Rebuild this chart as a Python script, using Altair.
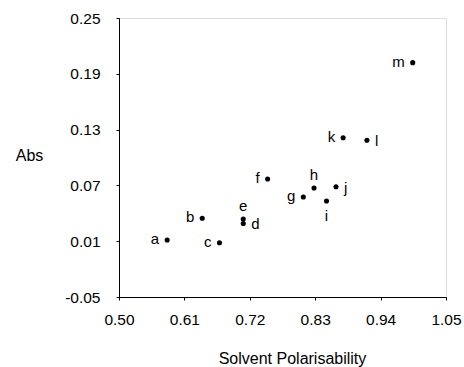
import altair as alt
import pandas as pd

labels = ["a", "b", "c", "d", "e", "f", "g", "h", "i", "j", "k", "l", "m"]
polarisability = [0.581, 0.640, 0.669, 0.709, 0.709, 0.750, 0.810, 0.828, 0.849, 0.865, 0.877, 0.917, 0.994]
absorbance = [0.0113, 0.0346, 0.0084, 0.0291, 0.0339, 0.0769, 0.0575, 0.0672, 0.0532, 0.0686, 0.1213, 0.1185, 0.2020]

x_ticks = [0.50, 0.61, 0.72, 0.83, 0.94, 1.05]
y_ticks = [-0.05, 0.01, 0.07, 0.13, 0.19, 0.25]

left_labels = ["a", "b", "c", "f", "g", "k", "m"]
right_labels = ["d", "j", "l"]
above_labels = ["e", "h"]
below_labels = ["i"]

df = pd.DataFrame({"label": labels, "x": polarisability, "y": absorbance})

FONT = "Liberation Sans"
FS = 15.5
LABEL_EXPR = "datum.value < 0 ? '-' + format(-datum.value, '.2f') : format(datum.value, '.2f')"

xenc = alt.X("x:Q", scale=alt.Scale(domain=[0.50, 1.05], nice=False, zero=False),
             axis=alt.Axis(values=x_ticks, labelExpr=LABEL_EXPR, title="Solvent Polarisability",
                           grid=False, tickSize=3, labelPadding=12, labelFontSize=FS, labelFlush=False,
                           titleFontSize=16, titleFontWeight="normal", titleY=61, titleX=173,
                           titleBaseline="middle", domainColor="black", tickColor="black",
                           labelColor="black", titleColor="black", labelFont=FONT, titleFont=FONT))
yenc = alt.Y("y:Q", scale=alt.Scale(domain=[-0.05, 0.25], nice=False, zero=False),
             axis=alt.Axis(values=y_ticks, labelExpr=LABEL_EXPR, title="Abs",
                           grid=False, tickSize=3, labelPadding=16, labelFontSize=FS, labelFlush=False,
                           titleFontSize=16, titleFontWeight="normal", titleAngle=0,
                           titleX=-90, titleY=137, titleAlign="center", titleBaseline="middle",
                           domainColor="black", tickColor="black",
                           labelColor="black", titleColor="black", labelFont=FONT, titleFont=FONT))

base = alt.Chart(df)
points = base.mark_circle(color="black", size=26, opacity=1).encode(x=xenc, y=yenc)

def text_layer(group, **kw):
    return base.transform_filter(
        alt.FieldOneOfPredicate(field="label", oneOf=group)
    ).mark_text(font=FONT, fontSize=15, color="black", **kw).encode(
        x="x:Q", y="y:Q", text="label:N")

t_left = text_layer(left_labels, align="right", baseline="middle", dx=-8, dy=-1)
t_right = text_layer(right_labels, align="left", baseline="middle", dx=8, dy=1)
t_above = text_layer(above_labels, align="center", baseline="middle", dy=-13)
t_below = text_layer(below_labels, align="center", baseline="middle", dy=15)

chart = alt.layer(points, t_left, t_right, t_above, t_below).properties(
    width=327, height=279,
    autosize=alt.AutoSizeParams(type="none"),
    padding={"left": 119, "top": 18, "right": 18, "bottom": 70},
).configure_view(stroke=None).configure(background="white")

chart.save("out.html", embed_options={"renderer": "svg", "actions": False})
